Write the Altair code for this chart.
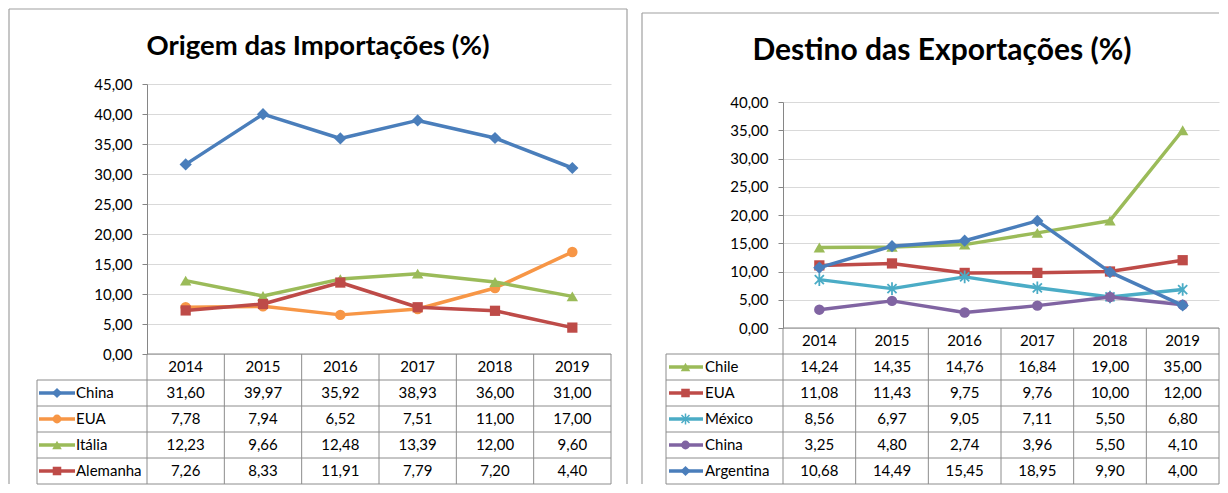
import altair as alt
import pandas as pd

# ---------------- data ----------------
years = ["2014", "2015", "2016", "2017", "2018", "2019"]

imp_title = "Origem das Importações (%)"
imp_series = ["China", "EUA", "Itália", "Alemanha"]
imp_china = [31.60, 39.97, 35.92, 38.93, 36.00, 31.00]
imp_eua = [7.78, 7.94, 6.52, 7.51, 11.00, 17.00]
imp_italia = [12.23, 9.66, 12.48, 13.39, 12.00, 9.60]
imp_alemanha = [7.26, 8.33, 11.91, 7.79, 7.20, 4.40]
imp_ticks = [0, 5, 10, 15, 20, 25, 30, 35, 40, 45]

exp_title = "Destino das Exportações (%)"
exp_series = ["Chile", "EUA", "México", "China", "Argentina"]
exp_chile = [14.24, 14.35, 14.76, 16.84, 19.00, 35.00]
exp_eua = [11.08, 11.43, 9.75, 9.76, 10.00, 12.00]
exp_mexico = [8.56, 6.97, 9.05, 7.11, 5.50, 6.80]
exp_china = [3.25, 4.80, 2.74, 3.96, 5.50, 4.10]
exp_argentina = [10.68, 14.49, 15.45, 18.95, 9.90, 4.00]
exp_ticks = [0, 5, 10, 15, 20, 25, 30, 35, 40]

# ---------------- styles ----------------
FONT = "Lato"
FS = 15
GRID = "#D9D9D9"
AXIS = "#868686"
TLINE = "#8C8C8C"
BORDER = "#A0A0A0"
BLUE, ORANGE, GREEN, RED, AQUA, PURPLE = "#4A7EBB", "#F79646", "#9BBB59", "#BE4B48", "#4BACC6", "#8064A2"
ASTERISK = "M-0.8,-0.8L0.8,0.8M-0.8,0.8L0.8,-0.8M0,-1.1L0,1.1"

SIZES = {"diamond": 150, "circle": 110, "triangle-up": 130, "square": 105}

imp_styles = [(BLUE, "diamond"), (ORANGE, "circle"), (GREEN, "triangle-up"), (RED, "square")]
exp_styles = [(GREEN, "triangle-up"), (RED, "square"), (AQUA, ASTERISK), (PURPLE, "circle"), (BLUE, "diamond")]

imp_geom = dict(W=464, top=0, bot=270, rh=26, tleft=-110, sw1=-108, sw2=-72, mk=-90, lab=-71,
                bl=-138, bt=-75, br=480, tx=171, ty=-29, tsize=27.5)
exp_geom = dict(W=436, top=18, bot=244, rh=26, tleft=-117, sw1=-114, sw2=-80, mk=-97.5, lab=-78,
                bl=-141, bt=-71, br=None, tx=159, ty=-23.7, tsize=30)


def fmt(v):
    return f"{v:.2f}".replace(".", ",")


def panel(title, series, values, styles, ticks, g):
    W, top, bot, rh = g["W"], g["top"], g["bot"], g["rh"]
    rows = ["hdr"] + series
    tbot = bot + rh * len(rows)

    x_pt = alt.Scale(type="point", domain=years, range=[0, W], padding=0.5)
    y_val = alt.Scale(domain=[ticks[0], ticks[-1]], range=[bot, top], nice=False, zero=False)
    x_band = alt.Scale(type="band", domain=years, range=[0, W], paddingInner=0, paddingOuter=0)
    y_band = alt.Scale(type="band", domain=rows, range=[bot, tbot], paddingInner=0, paddingOuter=0)

    one = pd.DataFrame({"t": [title]})
    layers = []

    # panel frame
    layers.append(alt.Chart(one).mark_rule(color=BORDER, strokeWidth=1.2).encode(
        x=alt.value(g["bl"]), x2=alt.value(g["br"] if g["br"] is not None else W),
        y=alt.value(g["bt"])))
    layers.append(alt.Chart(one).mark_rule(color=BORDER, strokeWidth=1.2).encode(
        x=alt.value(g["bl"]), y=alt.value(g["bt"]), y2=alt.value(tbot)))
    if g["br"] is not None:
        layers.append(alt.Chart(one).mark_rule(color=BORDER, strokeWidth=1.2).encode(
            x=alt.value(g["br"]), y=alt.value(g["bt"]), y2=alt.value(tbot)))

    # title
    layers.append(alt.Chart(one).mark_text(font=FONT, fontWeight="bold", fontSize=g["tsize"],
                                           align="center", baseline="alphabetic", color="#000").encode(
        x=alt.value(g["tx"]), y=alt.value(g["ty"]), text="t:N"))

    # axis + grid
    axis_df = pd.DataFrame({"value": ticks})
    layers.append(alt.Chart(axis_df).mark_tick(opacity=0).encode(
        y=alt.Y("value:Q", scale=y_val, axis=alt.Axis(
            values=ticks, title=None, grid=True, gridColor=GRID, gridWidth=1,
            domain=True, domainColor=AXIS, ticks=True, tickColor=AXIS, tickSize=5,
            labelPadding=10, labelFont=FONT, labelFontSize=FS, labelColor="#000",
            labelExpr="replace(format(datum.value, '.2f'), '.', ',')"))))

    # series, drawn in order
    long_rows = []
    for s, vals, (c, shp) in zip(series, values, styles):
        d = pd.DataFrame({"year": years, "value": vals, "row": s, "label": [fmt(v) for v in vals]})
        long_rows.append(d)
        layers.append(alt.Chart(d).mark_line(color=c, strokeWidth=3.5, strokeJoin="round", strokeCap="round").encode(
            x=alt.X("year:N", scale=x_pt, axis=None), y=alt.Y("value:Q", scale=y_val, axis=None)))
        is_path = shp.startswith("M")
        layers.append(alt.Chart(d).mark_point(color=c, shape=shp, filled=not is_path, opacity=1,
                                              size=130 if is_path else SIZES[shp],
                                              strokeWidth=1.8 if is_path else 0).encode(
            x=alt.X("year:N", scale=x_pt, axis=None), y=alt.Y("value:Q", scale=y_val, axis=None)))
    cells = pd.concat(long_rows, ignore_index=True)

    # table grid
    hdr = pd.DataFrame({"year": years, "row": "hdr"})
    ser = pd.DataFrame({"row": series})
    yb0 = alt.Y("row:N", scale=y_band, axis=None, bandPosition=0)
    ybc = alt.Y("row:N", scale=y_band, axis=None, bandPosition=0.5)
    layers.append(alt.Chart(pd.DataFrame({"row": ["hdr"]})).mark_rule(color=AXIS).encode(
        x=alt.value(0), x2=alt.value(W), y=yb0))
    layers.append(alt.Chart(ser).mark_rule(color=TLINE).encode(
        x=alt.value(g["tleft"]), x2=alt.value(W), y=yb0))
    layers.append(alt.Chart(one).mark_rule(color=TLINE).encode(
        x=alt.value(g["tleft"]), x2=alt.value(W), y=alt.value(tbot)))
    layers.append(alt.Chart(hdr).mark_rule(color=TLINE).encode(
        x=alt.X("year:N", scale=x_band, axis=None, bandPosition=0), y=alt.value(bot), y2=alt.value(tbot)))
    layers.append(alt.Chart(one).mark_rule(color=TLINE).encode(
        x=alt.value(W), y=alt.value(bot), y2=alt.value(tbot)))
    layers.append(alt.Chart(one).mark_rule(color=TLINE).encode(
        x=alt.value(g["tleft"]), y=alt.value(bot + rh), y2=alt.value(tbot)))

    # header and cells
    layers.append(alt.Chart(hdr).mark_text(font=FONT, fontSize=FS, color="#000").encode(
        x=alt.X("year:N", scale=x_band, axis=None), y=ybc, text="year:N"))
    layers.append(alt.Chart(cells).mark_text(font=FONT, fontSize=FS, color="#000").encode(
        x=alt.X("year:N", scale=x_band, axis=None), y=ybc, text="label:N"))

    # legend keys inside the table
    for s, (c, shp) in zip(series, styles):
        d = pd.DataFrame({"row": [s]})
        layers.append(alt.Chart(d).mark_rule(color=c, strokeWidth=3.5).encode(
            x=alt.value(g["sw1"]), x2=alt.value(g["sw2"]), y=ybc))
        is_path = shp.startswith("M")
        layers.append(alt.Chart(d).mark_point(color=c, shape=shp, filled=not is_path, opacity=1,
                                              size=100 if is_path else int(SIZES[shp] * 0.7),
                                              strokeWidth=1.5 if is_path else 0).encode(
            x=alt.value(g["mk"]), y=ybc))
        layers.append(alt.Chart(d).mark_text(font=FONT, fontSize=FS, align="left", color="#000").encode(
            x=alt.value(g["lab"]), y=ybc, text="row:N"))

    return alt.layer(*layers).resolve_scale(x="independent", y="independent").properties(
        width=W, height=tbot)


left = panel(imp_title, imp_series, [imp_china, imp_eua, imp_italia, imp_alemanha],
             imp_styles, imp_ticks, imp_geom)
right = panel(exp_title, exp_series, [exp_chile, exp_eua, exp_mexico, exp_china, exp_argentina],
              exp_styles, exp_ticks, exp_geom)

chart = alt.hconcat(left, right, spacing=172, bounds="flush").properties(
    padding={"left": 0, "top": 0, "right": 0, "bottom": 0}
).configure_view(stroke=None)

chart.save("out.html", embed_options={"renderer": "svg", "actions": False})
